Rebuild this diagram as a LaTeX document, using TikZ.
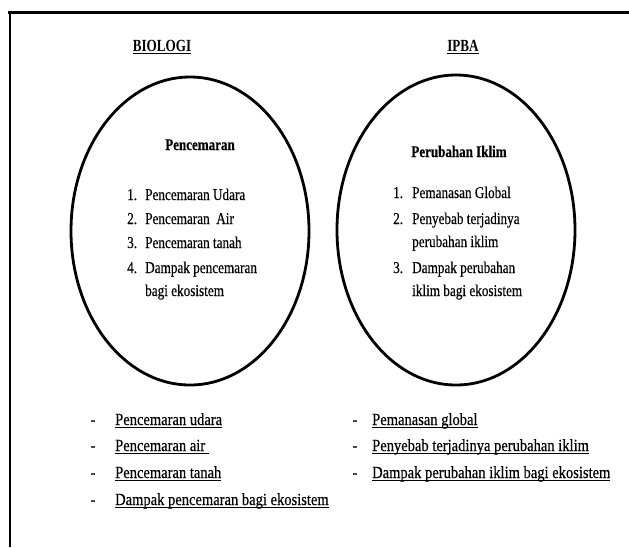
\documentclass[tikz,border=0pt]{standalone}
\usepackage{fontspec}
\setmainfont{Liberation Serif}
\newfontfamily\headfont[FakeStretch=0.77]{Liberation Serif}
\newfontfamily\ellfont[FakeStretch=0.80,FakeBold=0.4]{Liberation Serif}
\newfontfamily\botfont[FakeStretch=0.855,FakeBold=0.4]{Liberation Serif}
\usetikzlibrary{shapes.geometric}
\newsavebox\ulbox
\newcommand\myul[1]{\sbox\ulbox{#1}\rlap{\rule[-2.8pt]{\wd\ulbox}{0.9pt}}\usebox\ulbox}
\tikzset{
  frameline/.style={line width=#1, black},
  circ/.style={draw, ellipse, line width=2.8pt, inner sep=0pt},
  head/.style={anchor=base, inner sep=0pt, font=\headfont\fontsize{17}{19}\selectfont\bfseries},
  ttl/.style={anchor=base, inner sep=0pt, font=\ellfont\fontsize{16.3}{19}\selectfont\bfseries},
  item/.style={anchor=base west, inner sep=0pt, font=\ellfont\fontsize{16.5}{19}\selectfont},
  bitem/.style={anchor=base west, inner sep=0pt, font=\botfont\fontsize{17}{20}\selectfont},
  dashmark/.style={anchor=base, inner sep=0pt, font=\botfont\fontsize{17}{20}\selectfont},
}
\begin{document}
\begin{tikzpicture}[x=1pt,y=-1pt]
\useasboundingbox[fill=white] (0,0) rectangle (629,547);
\draw[frameline=3pt] (8,12.5) -- (629,12.5);
\draw[frameline=2pt] (10,11) -- (10,547);

\node[head] (h1) at (162,51) {\myul{BIOLOGI}};
\node[head] (h2) at (463,51) {\myul{IPBA}};

\node[circ, minimum width=238pt, minimum height=308pt] (e1) at (190,231) {};
\node[circ, minimum width=238pt, minimum height=310pt] (e2) at (456,230) {};

\node[ttl] (t1) at (200,150) {Pencemaran};
\node[item] (n11) at (127,200) {1.};
\node[item] (l11) at (145,200) {Pencemaran Udara};
\node[item] (n12) at (127,224) {2.};
\node[item] (l12) at (145,224) {Pencemaran\ \ Air};
\node[item] (n13) at (127,248) {3.};
\node[item] (l13) at (145,248) {Pencemaran tanah};
\node[item] (n14) at (127,273) {4.};
\node[item] (l14) at (145,273) {Dampak pencemaran};
\node[item] (l15) at (145,296) {bagi ekosistem};

\node[ttl] (t2) at (459,157) {Perubahan Iklim};
\node[item] (n21) at (393,198) {1.};
\node[item] (l21) at (412,198) {Pemanasan Global};
\node[item] (n22) at (393,224) {2.};
\node[item] (l22) at (412,224) {Penyebab terjadinya};
\node[item] (l23) at (412,247) {perubahan iklim};
\node[item] (n23) at (393,273) {3.};
\node[item] (l24) at (412,273) {Dampak perubahan};
\node[item] (l25) at (412,296) {iklim bagi ekosistem};

\node[dashmark] (d11) at (93,425) {-};
\node[bitem] (b11) at (115,425) {\myul{Pencemaran udara}};
\node[dashmark] (d12) at (93,451) {-};
\node[bitem] (b12) at (115,451) {\myul{Pencemaran air\ }};
\node[dashmark] (d13) at (93,478) {-};
\node[bitem] (b13) at (115,478) {\myul{Pencemaran tanah}};
\node[dashmark] (d14) at (93,505) {-};
\node[bitem] (b14) at (115,505) {\myul{Dampak pencemaran bagi ekosistem}};

\node[dashmark] (d21) at (355,425) {-};
\node[bitem] (b21) at (372,425) {\myul{Pemanasan global}};
\node[dashmark] (d22) at (355,451) {-};
\node[bitem] (b22) at (372,451) {\myul{Penyebab terjadinya perubahan iklim}};
\node[dashmark] (d23) at (355,478) {-};
\node[bitem] (b23) at (372,478) {\myul{Dampak perubahan iklim bagi ekosistem}};
\end{tikzpicture}
\end{document}
